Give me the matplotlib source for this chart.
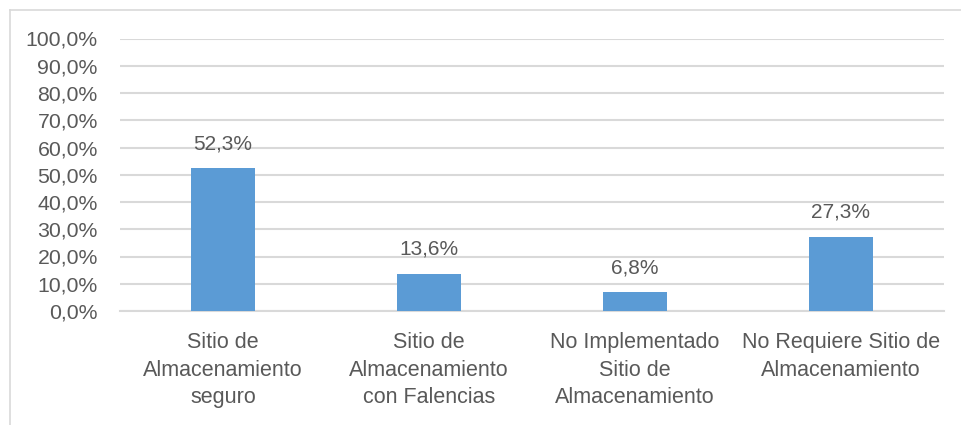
import matplotlib
matplotlib.use('Agg')
import matplotlib.pyplot as plt
from matplotlib.lines import Line2D

categories = ['Sitio de\nAlmacenamiento\nseguro',
              'Sitio de\nAlmacenamiento\ncon Falencias',
              'No Implementado\nSitio de\nAlmacenamiento',
              'No Requiere Sitio de\nAlmacenamiento']
values = [52.3, 13.6, 6.8, 27.3]
yticks = [0, 10, 20, 30, 40, 50, 60, 70, 80, 90, 100]

TEXT = '#595959'
GRID = '#D9D9D9'
BAR = '#5B9BD5'

plt.rcParams['font.family'] = ['Liberation Sans', 'DejaVu Sans']

fig = plt.figure(figsize=(9.61, 4.25), dpi=100)
ax = fig.add_axes([120/961, 1-311/425, (944-120)/961, (311-38.5)/425])

x = list(range(len(categories)))
bars = ax.bar(x, values, width=0.31, color=BAR, zorder=3)

for xi, v in zip(x, values):
    ax.annotate(f'{v:.1f}%'.replace('.', ','), (xi, v), xytext=(0, 11),
                textcoords='offset points', ha='center', va='bottom',
                fontsize=15, color=TEXT)

ax.set_xlim(-0.5, 3.5)
ax.set_ylim(0, 100)
ax.set_yticks(yticks)
ax.set_yticklabels([f'{t:.1f}%'.replace('.', ',') for t in yticks])
ax.set_xticks(x)
ax.set_xticklabels(categories, linespacing=1.42)
ax.tick_params(axis='y', length=0, pad=16, labelsize=15.3, labelcolor=TEXT)
ax.tick_params(axis='x', length=0, pad=15, labelsize=15.5, labelcolor=TEXT)
ax.grid(axis='y', color=GRID, linewidth=1.5, zorder=0)
for s in ['top', 'right', 'left']:
    ax.spines[s].set_visible(False)
ax.spines['bottom'].set_color(GRID)
ax.spines['bottom'].set_linewidth(1.5)

# chart border (partially cropped in the original)
fig.add_artist(Line2D([9.5/961, 9.5/961], [0, 1-9.5/425], color=GRID, lw=1.2))
fig.add_artist(Line2D([9.5/961, 1], [1-9.5/425, 1-9.5/425], color=GRID, lw=1.2))

fig.savefig('out.png', dpi=100)
